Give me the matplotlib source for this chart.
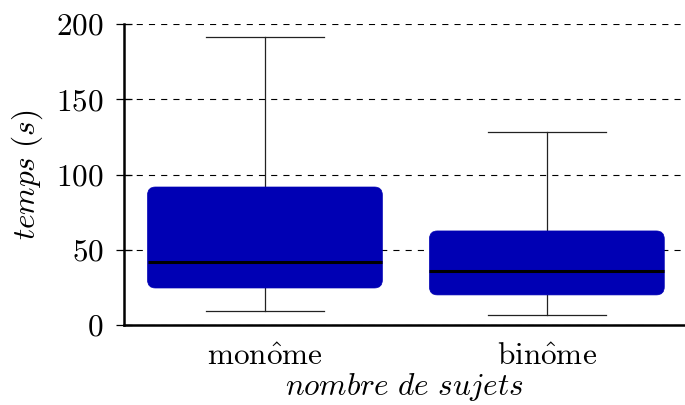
import matplotlib
matplotlib.use('Agg')
import matplotlib.pyplot as plt
from matplotlib.patches import FancyBboxPatch

plt.rcParams['font.family'] = ['cmr10']
plt.rcParams['mathtext.fontset'] = 'cm'
plt.rcParams['axes.formatter.use_mathtext'] = True

# temps (s) par groupe
labels = [r'$\mathrm{mon\hat{o}me}$', r'$\mathrm{bin\hat{o}me}$']
whislo = [9.3, 6.6]
q1 = [24.6, 20.0]
med = [41.9, 35.9]
q3 = [91.7, 62.5]
whishi = [191.4, 128.2]
yticks = [0, 50, 100, 150, 200]

blue = '#0000b4'
fig = plt.figure(figsize=(6.85, 4.05), dpi=100)
ax = fig.add_axes([0.181, 0.1975, 0.819, 0.7432])

stats = []
for i in range(len(labels)):
    stats.append(dict(label=labels[i], whislo=whislo[i], q1=q1[i], med=med[i],
                      q3=q3[i], whishi=whishi[i], fliers=[]))

width = 0.833
pos = [1, 2]
bp = ax.bxp(stats, positions=pos, widths=width, showfliers=False,
            patch_artist=True,
            boxprops=dict(facecolor='none', edgecolor='none'),
            whiskerprops=dict(color='#222222', linewidth=0.9),
            capprops=dict(color='#222222', linewidth=0.9),
            medianprops=dict(color='black', linewidth=2.2, zorder=4),
            capwidths=width / 2)

# rounded boxes
for i, p in enumerate(pos):
    pad_x = 0.028
    aspect = 190
    box = FancyBboxPatch((p - width / 2 + pad_x, q1[i] + pad_x * aspect),
                         width - 2 * pad_x, q3[i] - q1[i] - 2 * pad_x * aspect,
                         boxstyle='round,pad=%f' % pad_x,
                         mutation_aspect=aspect,
                         facecolor=blue, edgecolor=blue, linewidth=0.5, zorder=3)
    ax.add_patch(box)

ax.set_xlim(0.5, 2.49)
ax.set_ylim(0, 200)
ax.set_yticks(yticks)
ax.yaxis.grid(True, linestyle=(0, (5.5, 5.5)), color='black', linewidth=0.8)
ax.set_axisbelow(True)

for s in ['top', 'right']:
    ax.spines[s].set_visible(False)
ax.spines['left'].set_linewidth(1.8)
ax.spines['bottom'].set_linewidth(1.8)
ax.tick_params(axis='y', direction='inout', length=11, width=0.9,
               labelsize=22.5, pad=9)
ax.tick_params(axis='x', length=0, labelsize=22.5, pad=13)

ax.set_ylabel(r'$\mathit{temps\ (s)}$', fontsize=22.5, labelpad=8)
ax.set_xlabel(r'$\mathit{nombre\ de\ sujets}$', fontsize=22.5, labelpad=0)

fig.savefig('out.png', dpi=100)
